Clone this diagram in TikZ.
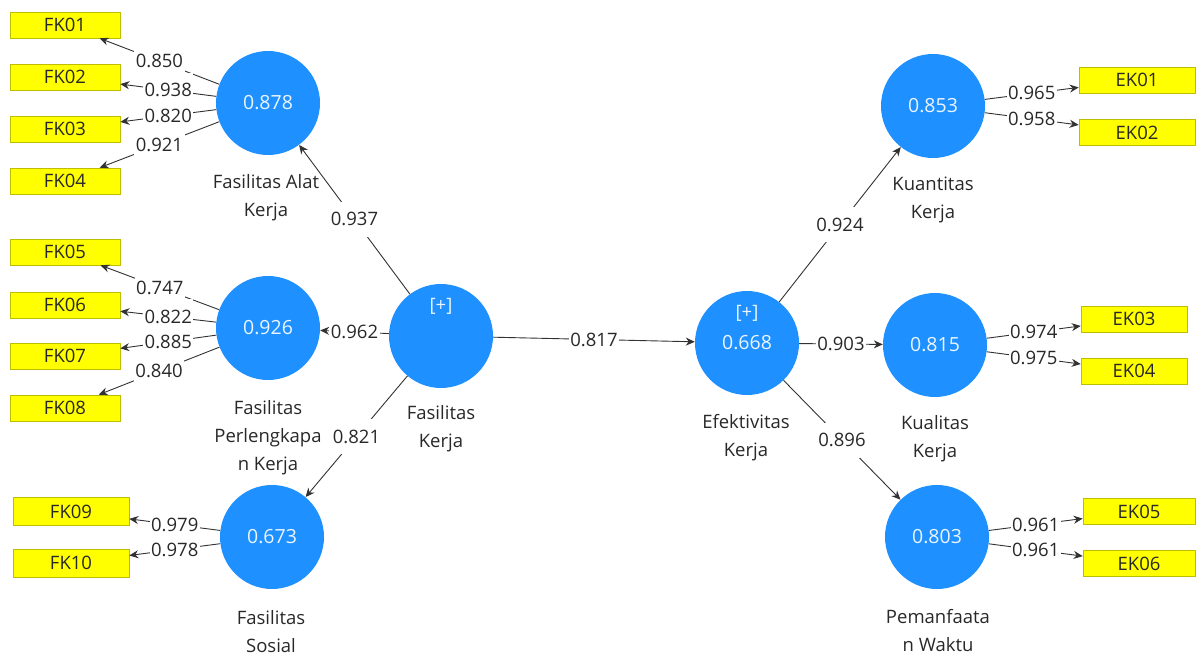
\documentclass[tikz,border=0pt]{standalone}
\usepackage{fontspec}
\setmainfont{Open Sans}
\usetikzlibrary{arrows.meta}
\definecolor{lvblue}{RGB}{30,144,255}
\definecolor{lvtext}{RGB}{235,245,255}
\definecolor{ink}{RGB}{40,40,40}
\definecolor{edgecol}{RGB}{50,50,50}
\definecolor{indfill}{RGB}{255,255,0}
\definecolor{indborder}{RGB}{190,190,0}
\begin{document}
\begin{tikzpicture}[x=1pt,y=-1pt,
  lv/.style={circle, fill=lvblue, minimum size=104pt, inner sep=0pt, text=lvtext, font=\fontsize{19.5}{23}\selectfont},
  ind/.style={rectangle, fill=indfill, draw=indborder, line width=0.6pt, minimum width=#1, minimum height=26pt, inner sep=0pt, text=ink, font=\fontsize{18.5}{22}\selectfont},
  ind/.default=110pt,
  lvname/.style={align=center, text=ink, font=\fontsize{18.5}{28}\selectfont, inner sep=0pt},
  plus/.style={text=lvtext, font=\fontsize{18.5}{22}\selectfont, inner sep=0pt, yshift=30pt},
  link/.style={draw=edgecol, line width=0.9pt, -{Stealth[length=9pt,width=8pt]}},
  coef/.style={fill=white, text=ink, font=\fontsize{18.5}{22}\selectfont, inner xsep=1.5pt, inner ysep=2pt, text height=22pt, text depth=9pt},
]
\useasboundingbox (0,0) rectangle (1197,655);

% latent variables
\node[lv] (alat) at (268,103) {0.878};
\node[lv] (perl) at (268,328) {0.926};
\node[lv] (sos) at (272,537) {0.673};
\node[lv, label={[plus]center:{[+]}}] (fk) at (441,336) {};
\node[lv, label={[plus]center:{[+]}}] (ef) at (747,343) {0.668};
\node[lv] (kuan) at (933,106) {0.853};
\node[lv] (kual) at (935,345) {0.815};
\node[lv] (pem) at (937,537) {0.803};

% names
\node[lvname] (nalat) at (266,198) {Fasilitas Alat\\Kerja};
\node[lvname] (nperl) at (268,438) {Fasilitas\\Perlengkapa\\n Kerja};
\node[lvname] (nsos) at (271,632) {Fasilitas\\Sosial};
\node[lvname] (nfk) at (441,429) {Fasilitas\\Kerja};
\node[lvname] (nef) at (746,438) {Efektivitas\\Kerja};
\node[lvname] (nkuan) at (933,200) {Kuantitas\\Kerja};
\node[lvname] (nkual) at (935,439) {Kualitas\\Kerja};
\node[lvname] (npem) at (938,631) {Pemanfaata\\n Waktu};

% indicators
\node[ind] (fk01) at (65,25) {FK01};
\node[ind] (fk02) at (65,77) {FK02};
\node[ind] (fk03) at (65,129) {FK03};
\node[ind] (fk04) at (65,181) {FK04};
\node[ind] (fk05) at (65,252) {FK05};
\node[ind] (fk06) at (65,305) {FK06};
\node[ind] (fk07) at (65,356) {FK07};
\node[ind] (fk08) at (65,408) {FK08};
\node[ind=116pt, minimum height=28pt] (fk09) at (71,511.5) {FK09};
\node[ind=116pt, minimum height=28pt] (fk10) at (71,563) {FK10};
\node[ind=116pt] (ek01) at (1137,80) {EK01};
\node[ind=116pt] (ek02) at (1137,132.5) {EK02};
\node[ind=106pt] (ek03) at (1134,319) {EK03};
\node[ind=106pt] (ek04) at (1134,371) {EK04};
\node[ind=112pt] (ek05) at (1139,511.5) {EK05};
\node[ind=112pt] (ek06) at (1139,563.5) {EK06};

% outer loadings
\draw[link] (alat) -- node[coef]{0.850} (fk01);
\draw[link] (alat) -- node[coef]{0.938} (fk02);
\draw[link] (alat) -- node[coef]{0.820} (fk03);
\draw[link] (alat) -- node[coef]{0.921} (fk04);
\draw[link] (perl) -- node[coef]{0.747} (fk05);
\draw[link] (perl) -- node[coef]{0.822} (fk06);
\draw[link] (perl) -- node[coef]{0.885} (fk07);
\draw[link] (perl) -- node[coef]{0.840} (fk08);
\draw[link] (sos) -- node[coef]{0.979} (fk09);
\draw[link] (sos) -- node[coef]{0.978} (fk10);
\draw[link] (kuan) -- node[coef]{0.965} (ek01);
\draw[link] (kuan) -- node[coef]{0.958} (ek02);
\draw[link] (kual) -- node[coef]{0.974} (ek03);
\draw[link] (kual) -- node[coef]{0.975} (ek04);
\draw[link] (pem) -- node[coef]{0.961} (ek05);
\draw[link] (pem) -- node[coef]{0.961} (ek06);

% structural paths
\draw[link] (fk) -- node[coef]{0.937} (alat);
\draw[link] (fk) -- node[coef]{0.962} (perl);
\draw[link] (fk) -- node[coef]{0.821} (sos);
\draw[link] (fk) -- node[coef]{0.817} (ef);
\draw[link] (ef) -- node[coef]{0.924} (kuan);
\draw[link] (ef) -- node[coef]{0.903} (kual);
\draw[link] (ef) -- node[coef]{0.896} (pem);
\end{tikzpicture}
\end{document}
